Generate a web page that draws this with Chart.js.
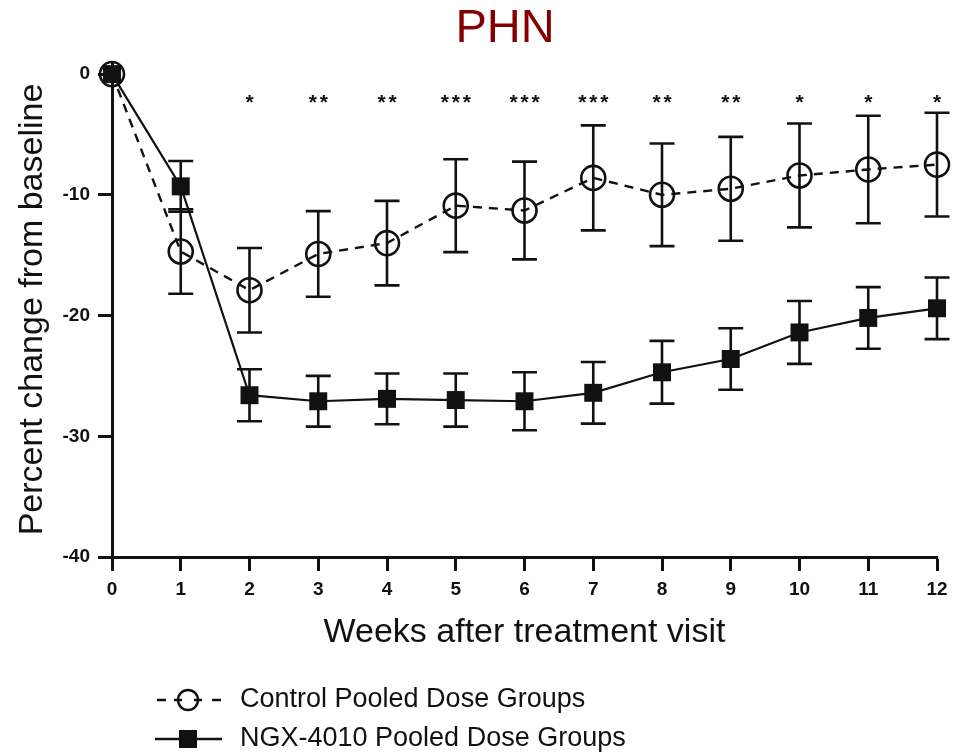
<!DOCTYPE html>
<html>
<head>
<meta charset="utf-8">
<script src="https://cdn.jsdelivr.net/npm/chart.js@4/dist/chart.umd.min.js"></script>
<style>
  html, body { margin: 0; padding: 0; background: #fff; }
  #wrap { width: 970px; height: 755px; }
</style>
</head>
<body>
<div id="wrap"><canvas id="c" width="970" height="755"></canvas></div>
<script>
// Weeks after treatment visit
const weeks = [0, 1, 2, 3, 4, 5, 6, 7, 8, 9, 10, 11, 12];

// Control pooled dose groups: mean % change and error half-width
const controlMean = [0, -14.7, -17.9, -14.9, -14.0, -10.9, -11.3, -8.6, -10.0, -9.5, -8.4, -7.9, -7.5];
const controlErr  = [0, 3.5, 3.5, 3.55, 3.5, 3.85, 4.05, 4.35, 4.25, 4.3, 4.3, 4.45, 4.3];

// NGX-4010 pooled dose groups: mean % change and error half-width
const ngxMean = [0, -9.3, -26.6, -27.1, -26.9, -27.0, -27.1, -26.4, -24.7, -23.6, -21.4, -20.2, -19.4];
const ngxErr  = [0, 2.1, 2.15, 2.1, 2.1, 2.2, 2.4, 2.55, 2.6, 2.55, 2.6, 2.55, 2.55];

// Significance markers per week
const significance = ['', '', '*', '**', '**', '***', '***', '***', '**', '**', '*', '*', '*'];

// Y-axis tick values
const yTicks = [-40, -30, -20, -10, 0];

const seriesNames = ['Control Pooled Dose Groups', 'NGX-4010 Pooled Dose Groups'];
const chartTitle = 'PHN';

const INK = '#111';
const FONT = '"Liberation Sans", Arial, sans-serif';
Chart.defaults.font.family = FONT;
Chart.defaults.color = INK;

const toPoints = (means) => weeks.map((w, i) => ({ x: w, y: means[i] }));

// Vertical error bars with caps, drawn beneath the markers
const errorBarPlugin = {
  id: 'errorBars',
  beforeDatasetsDraw(chart) {
    const { ctx, scales: { x, y } } = chart;
    const errs = [controlErr, ngxErr];
    const means = [controlMean, ngxMean];
    ctx.save();
    ctx.strokeStyle = INK;
    ctx.lineWidth = 2.6;
    ctx.lineCap = 'butt';
    for (let d = 0; d < 2; d++) {
      weeks.forEach((w, i) => {
        const e = errs[d][i];
        if (!e) return;
        const px = x.getPixelForValue(w);
        const top = y.getPixelForValue(means[d][i] + e);
        const bot = y.getPixelForValue(means[d][i] - e);
        const cap = 12.5;
        ctx.beginPath();
        ctx.moveTo(px, top); ctx.lineTo(px, bot);
        ctx.moveTo(px - cap, top); ctx.lineTo(px + cap, top);
        ctx.moveTo(px - cap, bot); ctx.lineTo(px + cap, bot);
        ctx.stroke();
      });
    }
    ctx.restore();
  }
};

// Asterisks above each week, title and the legend block
const annotatePlugin = {
  id: 'annotate',
  afterDraw(chart) {
    const { ctx, scales: { x, y } } = chart;
    ctx.save();
    // significance stars
    const fs = 21;
    ctx.font = `bold ${fs}px ${FONT}`;
    ctx.fillStyle = INK;
    ctx.textAlign = 'center';
    ctx.textBaseline = 'alphabetic';
    const sy = y.getPixelForValue(-2) + 0.5 * fs;
    weeks.forEach((w, i) => {
      const s = significance[i];
      if (!s) return;
      const cx = x.getPixelForValue(w);
      const gap = 11;
      for (let k = 0; k < s.length; k++) {
        ctx.fillText(s[k], cx + (k - (s.length - 1) / 2) * gap, sy);
      }
    });

    // title
    ctx.font = `47px ${FONT}`;
    ctx.fillStyle = '#840000';
    ctx.textAlign = 'center';
    ctx.textBaseline = 'alphabetic';
    ctx.fillText(chartTitle, 505, 42);

    // legend
    ctx.strokeStyle = INK;
    ctx.fillStyle = INK;
    ctx.lineWidth = 2.4;
    const r1 = 700, r2 = 739;
    ctx.beginPath();
    ctx.moveTo(157, r1); ctx.lineTo(166, r1);
    ctx.moveTo(174, r1); ctx.lineTo(182, r1);
    ctx.moveTo(194, r1); ctx.lineTo(202, r1);
    ctx.moveTo(212, r1); ctx.lineTo(221, r1);
    ctx.stroke();
    ctx.beginPath();
    ctx.arc(188, r1, 10, 0, Math.PI * 2);
    ctx.stroke();
    ctx.beginPath();
    ctx.moveTo(155, r2); ctx.lineTo(222, r2);
    ctx.stroke();
    ctx.fillRect(179, r2 - 9, 18, 18);

    ctx.font = `27px ${FONT}`;
    ctx.textAlign = 'left';
    ctx.textBaseline = 'middle';
    ctx.fillText(seriesNames[0], 240, r1);
    ctx.fillText(seriesNames[1], 240, r2);
    ctx.restore();
  }
};

new Chart(document.getElementById('c'), {
  type: 'line',
  data: {
    datasets: [
      {
        label: seriesNames[0],
        data: toPoints(controlMean),
        borderColor: INK,
        borderWidth: 2.4,
        borderDash: [9, 7],
        pointStyle: 'circle',
        pointRadius: 12,
        pointBorderWidth: 2.6,
        pointBorderColor: INK,
        pointBackgroundColor: 'rgba(0,0,0,0)',
        tension: 0,
        clip: false
      },
      {
        label: seriesNames[1],
        data: toPoints(ngxMean),
        borderColor: INK,
        borderWidth: 2.2,
        pointStyle: 'rect',
        pointRadius: 12.7,
        pointBorderWidth: 0,
        pointBackgroundColor: INK,
        tension: 0,
        clip: false
      }
    ]
  },
  options: {
    responsive: false,
    animation: false,
    devicePixelRatio: 1,
    layout: { padding: { top: 62, right: 33, bottom: 98, left: 0 } },
    plugins: { legend: { display: false }, tooltip: { enabled: false }, title: { display: false } },
    scales: {
      x: {
        type: 'linear',
        min: 0,
        max: 12,
        ticks: { stepSize: 1, font: { size: 19, weight: 'bold' }, color: INK, padding: 7 },
        grid: { drawOnChartArea: false, tickLength: 14, tickWidth: 3, tickColor: INK },
        border: { width: 3, color: INK },
        title: { display: true, text: 'Weeks after treatment visit', font: { size: 34 }, color: INK, padding: { top: 0, bottom: 4 } },
        afterFit(s) { s.height = 100; }
      },
      y: {
        type: 'linear',
        min: -40,
        max: 1,
        afterBuildTicks(s) { s.ticks = yTicks.map(v => ({ value: v })); },
        ticks: { font: { size: 19, weight: 'bold' }, color: INK, padding: 8 },
        grid: { drawOnChartArea: false, tickLength: 14, tickWidth: 3, tickColor: INK },
        border: { width: 3, color: INK },
        title: { display: true, text: 'Percent change from baseline', font: { size: 34 }, color: INK, padding: { top: 12, bottom: 0 } },
        afterFit(s) { s.width = 112; }
      }
    }
  },
  plugins: [errorBarPlugin, annotatePlugin]
});
</script>
</body>
</html>
